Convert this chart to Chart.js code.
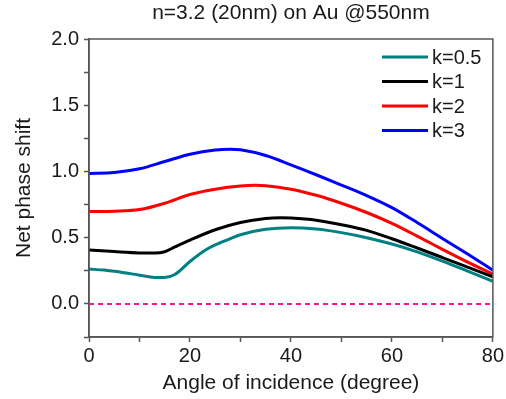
<!DOCTYPE html>
<html lang="en">
<head>
    <meta charset="UTF-8">
    <title>Net phase shift</title>
    <style>
        html, body {
            margin: 0;
            padding: 0;
            background-color: #ffffff;
        }
        .chart-container {
            position: relative;
            width: 506px;
            height: 399px;
        }
    </style>
    <script src="https://cdn.jsdelivr.net/npm/chart.js"></script>
</head>
<body>
    <div class="chart-container">
        <canvas id="phaseChart"></canvas>
    </div>
    <script>
        // angle of incidence (degree) and net phase shift for each k
        const anglesK05 = [0, 3, 7, 10, 13, 15, 17, 20, 23, 25, 28, 30, 35, 40, 45, 50, 55, 60, 65, 70, 75, 80];
        const phaseK05 = [0.263, 0.255, 0.235, 0.217, 0.2, 0.2, 0.222, 0.32, 0.405, 0.445, 0.492, 0.522, 0.563, 0.575, 0.565, 0.538, 0.5, 0.452, 0.393, 0.323, 0.247, 0.17];

        const anglesK1 = [0, 5, 10, 13, 15, 17, 20, 25, 30, 35, 38, 40, 45, 50, 55, 60, 65, 70, 75, 80];
        const phaseK1 = [0.407, 0.395, 0.385, 0.384, 0.394, 0.43, 0.482, 0.56, 0.615, 0.645, 0.65, 0.648, 0.632, 0.598, 0.555, 0.492, 0.422, 0.35, 0.277, 0.205];

        const anglesK2 = [0, 5, 10, 15, 20, 25, 30, 33, 35, 40, 45, 50, 55, 60, 65, 70, 75, 80];
        const phaseK2 = [0.697, 0.7, 0.712, 0.76, 0.826, 0.866, 0.89, 0.895, 0.892, 0.866, 0.82, 0.76, 0.69, 0.608, 0.512, 0.412, 0.315, 0.225];

        const anglesK3 = [0, 5, 10, 15, 20, 25, 28, 30, 35, 40, 45, 50, 55, 60, 65, 70, 75, 80];
        const phaseK3 = [0.985, 0.992, 1.02, 1.075, 1.13, 1.162, 1.168, 1.163, 1.12, 1.05, 0.975, 0.897, 0.818, 0.727, 0.614, 0.494, 0.376, 0.255];

        const zeroLineX = [0, 80];
        const zeroLineY = [0, 0];

        const seriesLabels = ['k=0.5', 'k=1', 'k=2', 'k=3'];
        const seriesColors = ['#008080', '#000000', '#ff0000', '#0000ff'];

        const FONT = "'Liberation Sans', Arial, sans-serif";
        const TEXT_COLOR = '#1a1a1a';
        const AXIS_COLOR = '#555555';

        function toPoints(xs, ys) {
            return xs.map((x, i) => ({ x: x, y: ys[i] }));
        }

        function lineDataset(label, xs, ys, color) {
            return {
                label: label,
                data: toPoints(xs, ys),
                borderColor: color,
                backgroundColor: color,
                borderWidth: 3,
                pointRadius: 0,
                fill: false,
                cubicInterpolationMode: 'monotone'
            };
        }

        // box around the plot area
        const frame = {
            id: 'frame',
            afterDraw(chart) {
                const { ctx, chartArea: a } = chart;
                ctx.save();
                ctx.strokeStyle = AXIS_COLOR;
                ctx.lineWidth = 1.5;
                ctx.strokeRect(a.left, a.top, a.right - a.left, a.bottom - a.top);
                ctx.restore();
            }
        };

        // legend in the upper right corner of the plot
        const insideLegend = {
            id: 'insideLegend',
            afterDatasetsDraw(chart) {
                const { ctx } = chart;
                const x0 = 382, x1 = 428, y0 = 57, step = 24.5;
                ctx.save();
                ctx.font = '20px ' + FONT;
                ctx.textBaseline = 'middle';
                ctx.fillStyle = TEXT_COLOR;
                chart.data.datasets.forEach((ds, i) => {
                    if (!ds.label) return;
                    const y = y0 + i * step;
                    ctx.strokeStyle = ds.borderColor;
                    ctx.lineWidth = 3;
                    ctx.beginPath();
                    ctx.moveTo(x0, y);
                    ctx.lineTo(x1, y);
                    ctx.stroke();
                    ctx.fillText(ds.label, x1 + 4, y + 1);
                });
                ctx.restore();
            }
        };

        const ctx = document.getElementById('phaseChart');
        new Chart(ctx, {
            type: 'line',
            data: {
                datasets: [
                    lineDataset(seriesLabels[0], anglesK05, phaseK05, seriesColors[0]),
                    lineDataset(seriesLabels[1], anglesK1, phaseK1, seriesColors[1]),
                    lineDataset(seriesLabels[2], anglesK2, phaseK2, seriesColors[2]),
                    lineDataset(seriesLabels[3], anglesK3, phaseK3, seriesColors[3]),
                    {
                        label: '',
                        data: toPoints(zeroLineX, zeroLineY),
                        borderColor: '#ff1493',
                        borderWidth: 2,
                        borderDash: [5, 4],
                        pointRadius: 0,
                        fill: false
                    }
                ]
            },
            options: {
                responsive: true,
                maintainAspectRatio: false,
                animation: false,
                layout: {
                    padding: { left: 0, right: 12, top: 0, bottom: 0 }
                },
                plugins: {
                    legend: { display: false },
                    tooltip: { enabled: false },
                    title: {
                        display: true,
                        fullSize: false,
                        text: 'n=3.2 (20nm) on Au @550nm',
                        color: TEXT_COLOR,
                        font: { family: FONT, size: 21, weight: 'normal' },
                        padding: { top: 1, bottom: 12.8 }
                    }
                },
                scales: {
                    x: {
                        type: 'linear',
                        min: 0,
                        max: 80,
                        afterFit(scale) { scale.height = 62; },
                        border: { color: AXIS_COLOR, width: 1.5 },
                        grid: {
                            drawOnChartArea: false,
                            color: AXIS_COLOR,
                            tickLength: 5,
                            tickWidth: 1.5
                        },
                        ticks: {
                            stepSize: 10,
                            maxRotation: 0,
                            padding: 2,
                            color: TEXT_COLOR,
                            font: { family: FONT, size: 20 },
                            callback: v => (v % 20 === 0 ? String(v) : '')
                        },
                        title: {
                            display: true,
                            text: 'Angle of incidence (degree)',
                            color: TEXT_COLOR,
                            font: { family: FONT, size: 21 },
                            padding: { top: 0, bottom: 3 }
                        }
                    },
                    y: {
                        type: 'linear',
                        min: -0.25,
                        max: 2.0,
                        afterFit(scale) { scale.width = 89; },
                        border: { color: AXIS_COLOR, width: 1.5 },
                        grid: {
                            drawOnChartArea: false,
                            color: AXIS_COLOR,
                            tickLength: 5,
                            tickWidth: 1.5
                        },
                        ticks: {
                            stepSize: 0.25,
                            padding: 5,
                            color: TEXT_COLOR,
                            font: { family: FONT, size: 20 },
                            callback: v => (Math.abs(v * 2 - Math.round(v * 2)) < 1e-6 && v >= 0 ? v.toFixed(1) : '')
                        },
                        title: {
                            display: true,
                            text: 'Net phase shift',
                            color: TEXT_COLOR,
                            font: { family: FONT, size: 21 },
                            padding: { top: 12, bottom: 0 }
                        }
                    }
                }
            },
            plugins: [frame, insideLegend]
        });
    </script>
</body>
</html>
